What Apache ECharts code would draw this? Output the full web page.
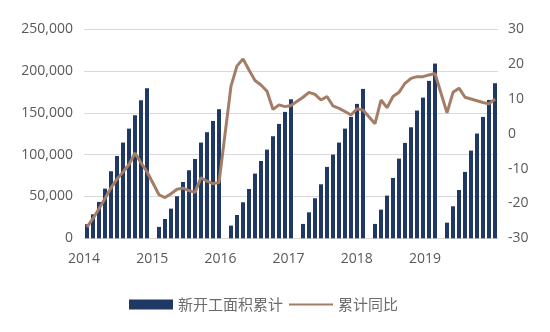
<!DOCTYPE html>
<html>
<head>
<meta charset="utf-8">
<script src="https://cdn.jsdelivr.net/npm/echarts@6/dist/echarts.min.js"></script>
<style>
  html, body { margin: 0; padding: 0; background: #ffffff; }
  #chart { width: 550px; height: 332px; }
</style>
</head>
<body>
<div id="chart"></div>
<script>
// Year tick labels on the horizontal axis
const yearLabels = ['2014', '2015', '2016', '2017', '2018', '2019'];

// 新开工面积累计 (万平方米), cumulative from Jan-Feb to each month (Feb..Dec; 2019 up to Oct)
const area2014 = [16800, 28700, 43500, 59400, 80200, 98500, 114500, 131200, 147200, 165100, 179500];
const area2015 = [13600, 23100, 35500, 50300, 67400, 81400, 94900, 114500, 126900, 140400, 154400];
const area2016 = [15200, 27900, 43100, 59000, 77400, 92500, 106100, 122100, 136800, 151200, 166300];
const area2017 = [17200, 31100, 47900, 64600, 85400, 100100, 114500, 131200, 145200, 160800, 178700];
const area2018 = [17200, 34300, 51100, 72200, 95300, 114100, 132800, 152800, 168300, 188300, 209000];
const area2019 = [18700, 38300, 57800, 79400, 104900, 125300, 145200, 165500, 185500];

// 累计同比 (%), same months
const yoy2014 = [-26.8, -24.3, -21.5, -18.6, -15.5, -13.0, -11.0, -8.8, -5.5, -8.3, -10.9];
const yoy2015 = [-17.5, -18.3, -17.2, -15.9, -15.6, -16.3, -16.8, -12.6, -13.6, -14.3, -14.0];
const yoy2016 = [13.7, 19.5, 21.5, 18.3, 15.3, 14.0, 12.2, 7.0, 8.3, 7.8, 8.1];
const yoy2017 = [10.5, 11.9, 11.3, 9.7, 10.7, 8.0, 7.3, 6.4, 5.4, 7.2, 6.8];
const yoy2018 = [2.9, 9.7, 7.5, 10.7, 11.9, 14.5, 15.9, 16.4, 16.4, 16.9, 17.3];
const yoy2019 = [6.0, 11.9, 13.1, 10.5, 10.0, 9.5, 9.0, 8.6, 10.0];

const areaByYear = [area2014, area2015, area2016, area2017, area2018, area2019];
const yoyByYear = [yoy2014, yoy2015, yoy2016, yoy2017, yoy2018, yoy2019];

// Monthly category table: January has no standalone release (merged into Jan-Feb),
// so each year after the first keeps an empty January slot.
const categories = [];
const areaData = [];
const yoyData = [];
yearLabels.forEach(function (year, i) {
  if (i > 0) {
    categories.push(year + '-01');
    areaData.push(null);
    yoyData.push(null);
  }
  areaByYear[i].forEach(function (v, k) {
    const m = k + 2;
    categories.push(year + '-' + (m < 10 ? '0' + m : m));
    areaData.push(v);
    yoyData.push(yoyByYear[i][k]);
  });
});

function withCommas(v) {
  return String(v).replace(/\B(?=(\d{3})+(?!\d))/g, ',');
}

const axisFont = { color: '#595959', fontSize: 14, fontFamily: 'Open Sans' };

const chart = echarts.init(document.getElementById('chart'), null, { renderer: 'canvas' });
chart.setOption({
  animation: false,
  backgroundColor: '#ffffff',
  grid: {
    left: 84, right: 52, top: 29.3, bottom: 93.7,
    containLabel: false,
    outerBoundsMode: 'none'
  },
  legend: {
    left: 124,
    top: 292,
    itemWidth: 44,
    itemHeight: 10,
    itemGap: 5,
    textStyle: { color: '#6b6b6b', fontSize: 15, fontFamily: 'Noto Sans CJK SC' },
    data: [
      { name: '新开工面积累计', icon: 'rect' },
      {
        name: '累计同比',
        // plain line key, no marker in the middle
        itemStyle: { color: 'transparent', borderColor: 'transparent', borderWidth: 0 }
      }
    ]
  },
  xAxis: [
    {
      type: 'category',
      data: categories,
      boundaryGap: true,
      axisLine: { show: true, lineStyle: { color: '#D9D9D9', width: 1 } },
      axisTick: { show: false },
      axisLabel: { show: false },
      splitLine: { show: false }
    },
    {
      type: 'value',
      position: 'bottom',
      min: 2014,
      max: 2020.07,
      interval: 1,
      axisLine: { show: false },
      axisTick: { show: false },
      splitLine: { show: false },
      axisLabel: Object.assign({
        margin: 14,
        formatter: function (v) {
          return yearLabels[Math.round(v) - 2014] || '';
        }
      }, axisFont)
    }
  ],
  yAxis: [
    {
      type: 'value',
      min: 0,
      max: 250000,
      interval: 50000,
      axisLine: { show: false },
      axisTick: { show: false },
      splitLine: { lineStyle: { color: '#D9D9D9', width: 1 } },
      axisLabel: Object.assign({ margin: 11, formatter: withCommas }, axisFont)
    },
    {
      type: 'value',
      min: -30,
      max: 30,
      interval: 10,
      position: 'right',
      axisLine: { show: false },
      axisTick: { show: false },
      splitLine: { show: false },
      axisLabel: Object.assign({ margin: 10 }, axisFont)
    }
  ],
  series: [
    {
      name: '新开工面积累计',
      type: 'bar',
      xAxisIndex: 0,
      yAxisIndex: 0,
      barWidth: 4,
      itemStyle: { color: '#1F3864' },
      data: areaData
    },
    {
      name: '累计同比',
      type: 'line',
      xAxisIndex: 0,
      yAxisIndex: 1,
      connectNulls: true,
      symbol: 'none',
      showSymbol: false,
      itemStyle: { color: '#A47D67' },
      lineStyle: { color: '#A47D67', width: 3 },
      data: yoyData
    }
  ]
});
</script>
</body>
</html>
